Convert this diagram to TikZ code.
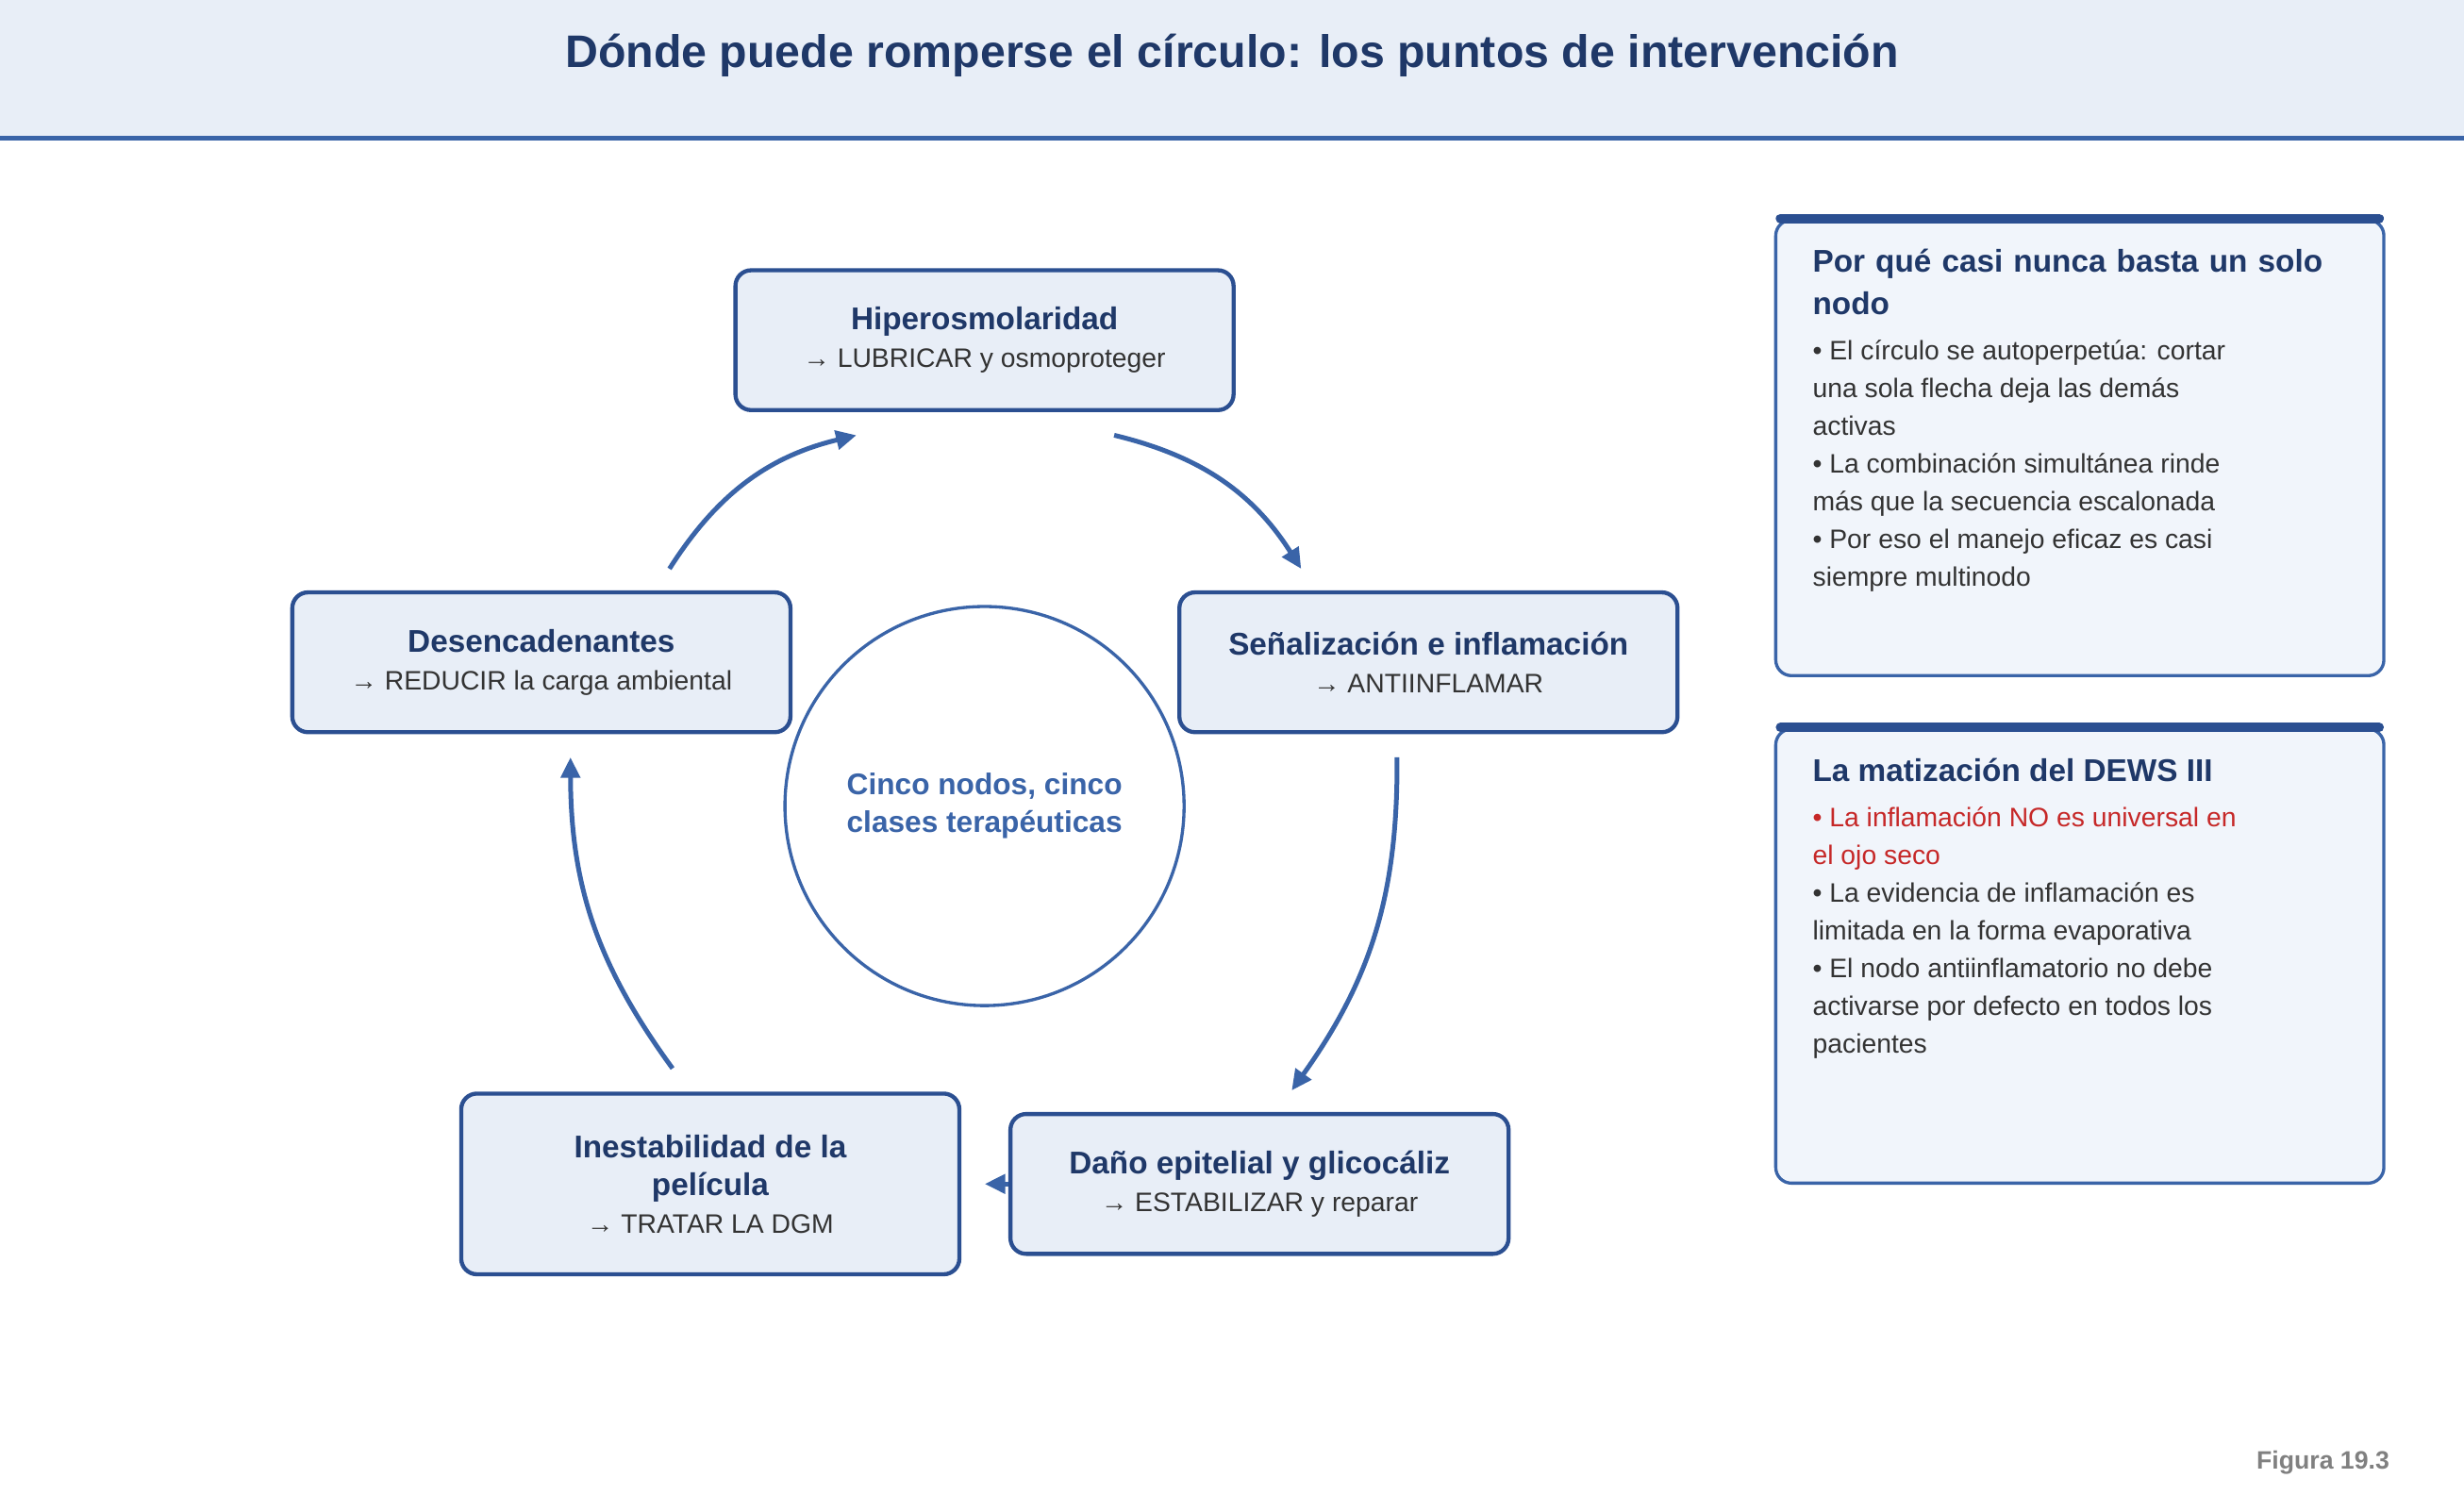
\documentclass[tikz,border=0pt]{standalone}
\usepackage{fontspec}
\setmainfont{Liberation Sans}
\usetikzlibrary{arrows.meta}
\definecolor{band}{HTML}{E8EEF7}
\definecolor{navy}{HTML}{1F3868}
\definecolor{edge}{HTML}{2B4F91}
\definecolor{arr}{HTML}{3A64A8}
\definecolor{panel}{HTML}{F1F5FB}
\definecolor{txt}{HTML}{333333}
\definecolor{red}{HTML}{C62828}
\begin{document}
\begin{tikzpicture}[x=1pt,y=-1pt,
  box/.style={draw=edge,line width=2.6pt,fill=band,rounded corners=10pt,minimum width=317pt,align=center,text=txt,font=\fontsize{17}{24}\selectfont},
  ttl/.style={font=\fontsize{20}{27}\selectfont\bfseries,text=navy},
  cyc/.style={draw=arr,line width=3pt,-{Triangle[length=13pt,width=12pt]}},
  pnl/.style={draw=arr,line width=2pt,fill=panel,rounded corners=10pt},
  ptxt/.style={anchor=north west,align=left,text=txt,font=\fontsize{17}{24}\selectfont}]
\useasboundingbox (0,0) rectangle (1568,951);
\fill[white] (0,0) rectangle (1568,951);
\fill[band] (0,0) rectangle (1568,87);
\draw[arr,line width=3pt] (0,88) -- (1568,88);
\node[font=\fontsize{29}{34}\selectfont\bfseries,text=navy] (title) at (784,35) {Dónde puede romperse el círculo: los puntos de intervención};

\node[box,minimum height=89pt] (h) at (626.5,216.5) {{\fontsize{20}{27}\selectfont\bfseries\color{navy}Hiperosmolaridad}\\→ LUBRICAR y osmoproteger};
\node[box,minimum height=89pt] (s) at (909,421.5) {{\fontsize{20}{27}\selectfont\bfseries\color{navy}Señalización e inflamación}\\→ ANTIINFLAMAR};
\node[box,minimum height=89pt] (d) at (801.5,753.5) {{\fontsize{20}{27}\selectfont\bfseries\color{navy}Daño epitelial y glicocáliz}\\→ ESTABILIZAR y reparar};
\node[box,minimum height=115pt] (i) at (452,753.5) {{\fontsize{20}{27}\selectfont\bfseries\color{navy}Inestabilidad de la}\\{\fontsize{20}{27}\selectfont\bfseries\color{navy}película}\\→ TRATAR LA DGM};
\node[box,minimum height=89pt] (e) at (344.5,421.5) {{\fontsize{20}{27}\selectfont\bfseries\color{navy}Desencadenantes}\\→ REDUCIR la carga ambiental};

\node[draw=arr,line width=2pt,circle,minimum size=254pt,align=center,text=arr,font=\fontsize{19}{24}\selectfont\bfseries] (c) at (626.5,513) {Cinco nodos, cinco\\clases terapéuticas};

\coordinate (a1) at (426,362); \coordinate (b1) at (545,277);
\coordinate (a2) at (709,277); \coordinate (b2) at (828,362);
\coordinate (a3) at (889,482); \coordinate (b3) at (822,694);
\coordinate (a5) at (428,680); \coordinate (b5) at (363,482);
\draw[cyc] (a1) to[bend left=22] (b1);
\draw[cyc] (a2) to[bend left=22] (b2);
\draw[cyc] (a3) to[bend left=18] (b3);
\draw[cyc] (a5) to[bend left=18] (b5);
\draw[cyc] (d.west) -- ++(-15,0);

\draw[pnl] (1130,140) rectangle (1517,430);
\draw[edge,line width=6pt,line cap=round] (1133,139) -- (1514,139);
\node[ptxt,ttl,text width=360pt] (p1t) at (1150,155) {Por qué casi nunca basta un solo nodo};
\node[ptxt] (p1b) at (1150,213) {• El círculo se autoperpetúa: cortar\\una sola flecha deja las demás\\activas\\• La combinación simultánea rinde\\más que la secuencia escalonada\\• Por eso el manejo eficaz es casi\\siempre multinodo};

\draw[pnl] (1130,464) rectangle (1517,753);
\draw[edge,line width=6pt,line cap=round] (1133,463) -- (1514,463);
\node[ptxt,ttl] (p2t) at (1150,479) {La matización del DEWS III};
\node[ptxt] (p2b) at (1150,510) {{\color{red}• La inflamación NO es universal en}\\{\color{red}el ojo seco}\\• La evidencia de inflamación es\\limitada en la forma evaporativa\\• El nodo antiinflamatorio no debe\\activarse por defecto en todos los\\pacientes};

\node[font=\fontsize{16}{20}\selectfont\bfseries,text=gray,anchor=east] (fig) at (1524,931) {Figura 19.3};
\end{tikzpicture}
\end{document}
